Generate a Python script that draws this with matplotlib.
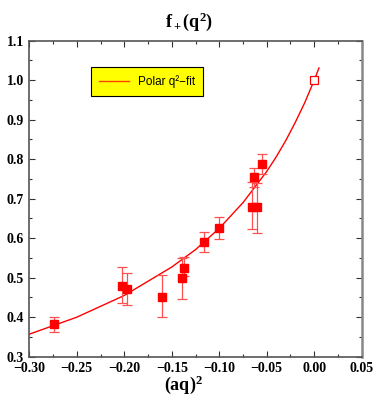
import matplotlib
matplotlib.use('Agg')
import matplotlib.pyplot as plt
from matplotlib.ticker import MultipleLocator

plt.rcParams['mathtext.fontset'] = 'custom'
plt.rcParams['mathtext.rm'] = 'Liberation Serif:bold'
plt.rcParams['mathtext.it'] = 'Liberation Serif:bold'
plt.rcParams['mathtext.bf'] = 'Liberation Serif:bold'

# lattice data points, f+ vs (aq)^2
x_pts = [-0.2737, -0.2027, -0.197, -0.160, -0.1395, -0.1368, -0.1157, -0.1006,
         -0.0658, -0.060, -0.0637, -0.0555]
y_pts = [0.382, 0.480, 0.471, 0.452, 0.498, 0.524, 0.590, 0.627,
         0.680, 0.678, 0.756, 0.787]
y_hi = [0.401, 0.526, 0.511, 0.506, 0.550, 0.552, 0.616, 0.653,
        0.742, 0.740, 0.778, 0.812]
y_lo = [0.362, 0.435, 0.430, 0.400, 0.447, 0.505, 0.564, 0.599,
        0.623, 0.614, 0.730, 0.762]

# normalisation point
x_norm = [0.0]
y_norm = [1.0]

# polar fit curve
x_fit = [-0.30, -0.25, -0.20, -0.15, -0.125, -0.10, -0.075, -0.05, -0.04,
         -0.03, -0.02, -0.01, 0.0, 0.005]
y_fit = [0.357, 0.400, 0.455, 0.527, 0.571, 0.625, 0.690, 0.769, 0.806,
         0.847, 0.893, 0.943, 1.000, 1.031]

fig = plt.figure(figsize=(3.82, 4.09), dpi=100)
ax = fig.add_axes([0.0767, 0.1279, 0.8702, 0.7726])

ax.plot(x_fit, y_fit, color='red', lw=1.0, label='Polar q²−fit')

err_lo = [y - l for y, l in zip(y_pts, y_lo)]
err_hi = [h - y for y, h in zip(y_pts, y_hi)]
ax.errorbar(x_pts, y_pts, yerr=[err_lo, err_hi], fmt='none', ecolor='#ff5050',
            elinewidth=0.9, capsize=3.5, capthick=0.9)
ax.plot(x_pts, y_pts, 's', color='red', ms=5.5, lw=0)
ax.plot(x_norm, y_norm, 's', mfc='white', mec='red', ms=5.5, mew=0.9)

ax.set_xlim(-0.30, 0.05)
ax.set_ylim(0.3, 1.1)
ax.xaxis.set_major_locator(MultipleLocator(0.05))
ax.xaxis.set_minor_locator(MultipleLocator(0.025))
ax.yaxis.set_major_locator(MultipleLocator(0.1))
ax.yaxis.set_minor_locator(MultipleLocator(0.05))
ax.xaxis.set_major_formatter(plt.FuncFormatter(lambda v, p: ('%.2f' % v).replace('-', '−')))
ax.yaxis.set_major_formatter(plt.FuncFormatter(lambda v, p: '%.1f' % v))

ax.tick_params(which='both', direction='in', top=True, right=True, color='#333333')
ax.tick_params(which='major', length=4, width=0.8)
ax.tick_params(which='minor', length=2, width=0.8)
ax.tick_params(axis='x', pad=3.5)
ax.tick_params(axis='y', pad=4)
for lab in ax.get_xticklabels() + ax.get_yticklabels():
    lab.set_fontfamily('Liberation Serif')
    lab.set_fontweight('bold')
    lab.set_fontsize(10)
for s in ax.spines.values():
    s.set_color('#555555')
    s.set_linewidth(1.2)
ax.spines['right'].set_color('#888888')
ax.spines['right'].set_linewidth(1.8)

fig.text(0.495, 0.948, r'$\mathrm{f_+(q^2)}$', ha='center', va='center', fontsize=13)
fig.text(0.48, 0.06, r'$\mathrm{(aq)^2}$', ha='center', va='center', fontsize=13)

leg = ax.legend(loc='upper left', bbox_to_anchor=(0.185, 0.918), borderaxespad=0,
                fancybox=False, framealpha=1, facecolor='#ffff00', edgecolor='black',
                prop={'family': 'Liberation Sans', 'size': 8.5}, handlelength=2.5,
                borderpad=0.7)
leg.get_lines()[0].set_color('#ff4000')
leg.get_frame().set_linewidth(0.8)

fig.savefig('out.png', dpi=100)
